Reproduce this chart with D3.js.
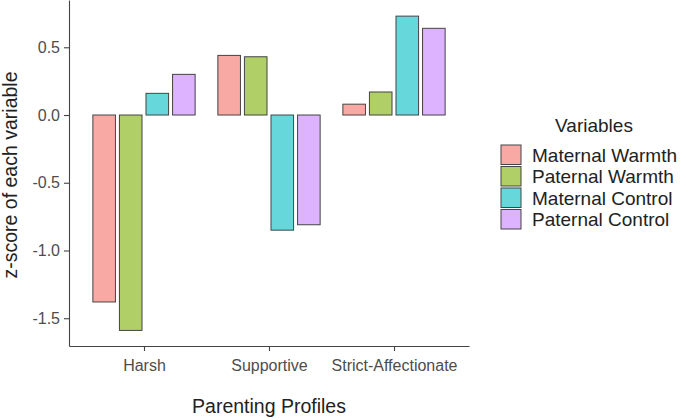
<!DOCTYPE html>
<html>
<head>
<meta charset="utf-8">
<script src="https://cdn.jsdelivr.net/npm/d3@7"></script>
<style>
  body { margin: 0; background: #fff; }
  text { font-family: "Liberation Sans", Arial, sans-serif; }
</style>
</head>
<body>
<div id="Area"></div>
<script>
// data
const profiles = ["Harsh", "Supportive", "Strict-Affectionate"];
const variables = ["Maternal Warmth", "Paternal Warmth", "Maternal Control", "Paternal Control"];
const maternalWarmth = [-1.38, 0.44, 0.08];
const paternalWarmth = [-1.59, 0.43, 0.17];
const maternalControl = [0.16, -0.85, 0.73];
const paternalControl = [0.30, -0.81, 0.64];
const yTicks = [-1.5, -1.0, -0.5, 0.0, 0.5];
const colors = ["#F8A9A4", "#B0CF66", "#66D8DC", "#DDB2FF"];

const seriesValues = [maternalWarmth, paternalWarmth, maternalControl, paternalControl];
const rows = [];
profiles.forEach((p, i) => {
    variables.forEach((v, j) => {
        rows.push({profile: p, idx: i + 1, variable: v, value: seriesValues[j][i]});
    });
});

const W = 685, H = 420;
const margin = {top: 0, left: 69, right: 216, bottom: 74};
const plotW = W - margin.left - margin.right;   // 400
const plotH = H - margin.top - margin.bottom;   // 346

const svg = d3.select("#Area").append("svg")
    .attr("width", W).attr("height", H);
const g = svg.append("g")
    .attr("transform", `translate(${margin.left},${margin.top})`);

// discrete axis as positions 1..3 with 0.6 expansion each side (like ggplot)
const x = d3.scaleLinear()
    .domain([0.4, profiles.length + 0.6])
    .range([0, plotW]);

const y = d3.scaleLinear()
    .domain([-1.705, 0.849])
    .range([plotH, 0]);

const dodge = 0.85;
const x1 = d3.scaleBand()
    .domain(variables)
    .range([-dodge / 2, dodge / 2])
    .paddingInner(0.15)
    .paddingOuter(0.075);
const color = d3.scaleOrdinal().domain(variables).range(colors);

g.selectAll("rect.bar")
    .data(rows)
    .join("rect")
    .attr("class", "bar")
    .attr("x", d => x(d.idx + x1(d.variable)))
    .attr("width", x(1 + x1.bandwidth()) - x(1))
    .attr("y", d => y(Math.max(0, d.value)))
    .attr("height", d => Math.abs(y(d.value) - y(0)))
    .attr("fill", d => color(d.variable))
    .attr("stroke", "#444")
    .attr("stroke-width", 1);

// axes
const axisColor = "#444";
const yAxis = g.append("g")
    .call(d3.axisLeft(y).tickValues(yTicks)
        .tickFormat(d => d3.format(".1f")(d).replace("−", "-"))
        .tickSize(5).tickSizeOuter(0));
const xAxis = g.append("g")
    .attr("transform", `translate(0,${plotH})`)
    .call(d3.axisBottom(x).tickValues([1, 2, 3])
        .tickFormat(i => profiles[i - 1])
        .tickSize(5).tickSizeOuter(0));

[xAxis, yAxis].forEach(a => {
    a.select(".domain").attr("stroke", axisColor).attr("stroke-width", 1.1);
    a.selectAll(".tick line").attr("stroke", axisColor).attr("stroke-width", 1.1);
    a.selectAll(".tick text").attr("fill", "#4d4d4d")
        .style("font-size", "16px").style("font-family", "Liberation Sans, Arial, sans-serif");
});
yAxis.selectAll(".tick text").attr("x", -9);
xAxis.selectAll(".tick text").attr("y", 14);

// axis titles
svg.append("text")
    .attr("x", margin.left + plotW / 2).attr("y", 413)
    .attr("text-anchor", "middle")
    .attr("fill", "#222")
    .style("font-size", "19.5px")
    .text("Parenting Profiles");
svg.append("text")
    .attr("transform", `translate(17,${margin.top + plotH / 2 + 2}) rotate(-90)`)
    .attr("text-anchor", "middle")
    .attr("fill", "#222")
    .style("font-size", "19.5px")
    .text("z-score of each variable");

// legend
const legend = svg.append("g").attr("transform", "translate(500,144)");
legend.append("text")
    .attr("x", 94).attr("y", -12)
    .attr("text-anchor", "middle")
    .attr("fill", "#222")
    .style("font-size", "19px")
    .text("Variables");
const item = legend.selectAll("g.item")
    .data(variables)
    .join("g")
    .attr("class", "item")
    .attr("transform", (d, i) => `translate(0,${i * 21.5})`);
item.append("rect")
    .attr("x", 1).attr("y", 1)
    .attr("width", 20).attr("height", 19.5)
    .attr("fill", d => color(d))
    .attr("stroke", "#444")
    .attr("stroke-width", 1);
item.append("text")
    .attr("x", 32).attr("y", 17.5)
    .attr("fill", "#222")
    .style("font-size", "19px")
    .text(d => d);
</script>
</body>
</html>
